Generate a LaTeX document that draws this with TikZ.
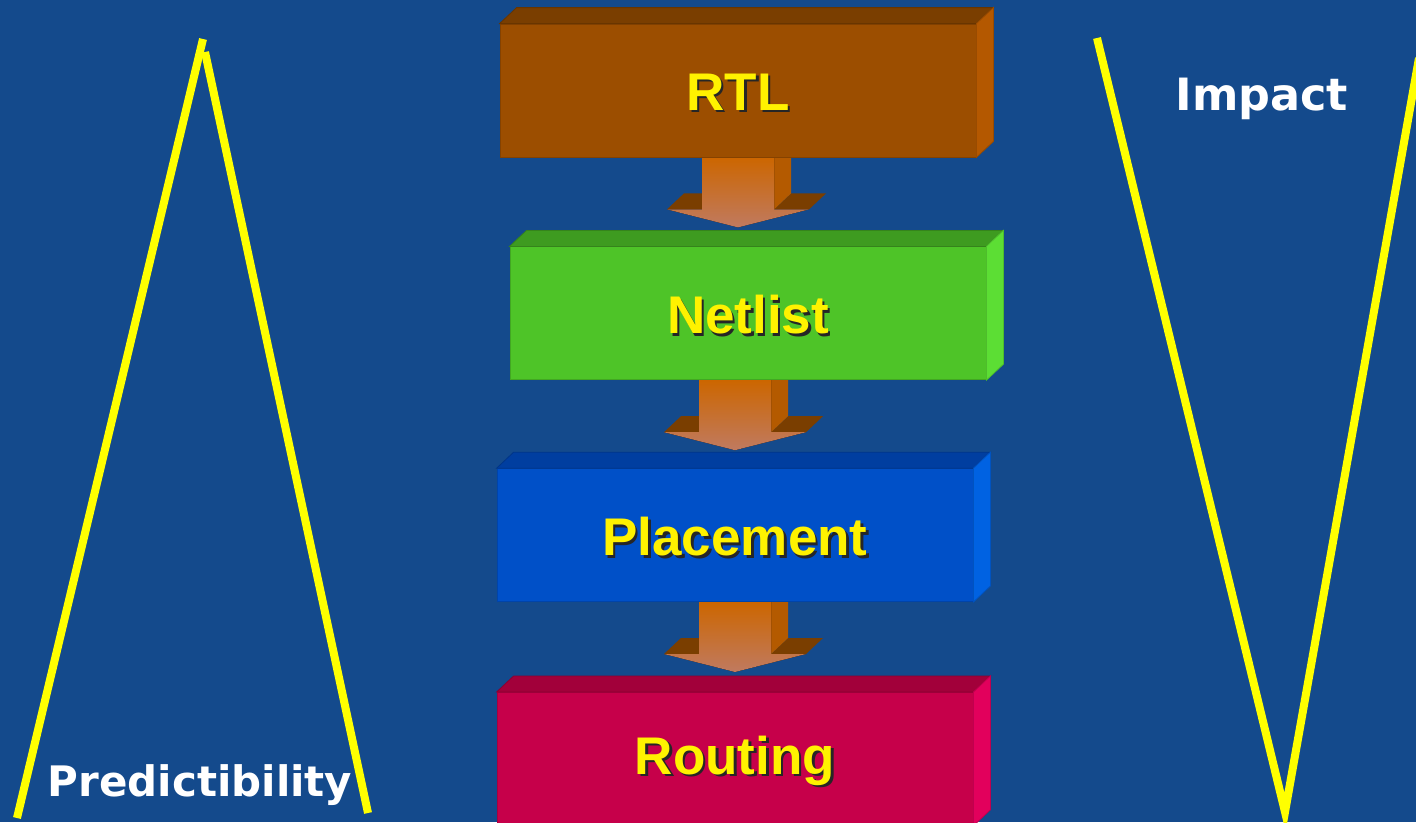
\documentclass[tikz,border=0pt]{standalone}
\usepackage{fontspec}
\setmainfont{Liberation Sans}
\newfontfamily\sidefont{DejaVu Sans}
\usetikzlibrary{positioning,calc}

\definecolor{seablue}{RGB}{20,74,140}
\definecolor{guide}{RGB}{255,255,0}
\definecolor{rtlfront}{RGB}{156,78,0}
\definecolor{rtltop}{RGB}{122,62,0}
\definecolor{rtlside}{RGB}{180,88,0}
\definecolor{netfront}{RGB}{78,196,40}
\definecolor{nettop}{RGB}{62,155,32}
\definecolor{netside}{RGB}{92,222,52}
\definecolor{placefront}{RGB}{0,80,200}
\definecolor{placetop}{RGB}{0,62,160}
\definecolor{placeside}{RGB}{0,98,226}
\definecolor{routefront}{RGB}{198,0,74}
\definecolor{routetop}{RGB}{162,0,58}
\definecolor{routeside}{RGB}{226,0,92}
\definecolor{pipetop}{RGB}{204,102,0}
\definecolor{pipebottom}{RGB}{192,122,96}
\definecolor{pipeshade}{RGB}{122,62,0}
\definecolor{pipeside}{RGB}{180,90,0}

\pgfdeclarelayer{back}
\pgfdeclarelayer{pipes}
\pgfsetlayers{back,pipes,main}

\tikzset{
  stage/.style={minimum width=476pt, minimum height=133pt, inner sep=0pt,
    fill=#1, draw=#1!85!black, line width=0.8pt, text=yellow,
    font=\bfseries\fontsize{53}{60}\selectfont},
  guideline/.style={guide, line width=8pt},
  sidelabel/.style={text=white, font=\sidefont\bfseries\fontsize{#1}{48}\selectfont},
  sidelabel/.default=42
}

% text with a dark drop shadow
\newcommand\shadowed[1]{\raisebox{-3pt}[\height][\depth]{\rlap{\kern2.5pt\raisebox{-2.5pt}{\color{black!85}#1}}#1}}

% top and right faces of a stage box
\newcommand\stagedepth[3]{%
  \filldraw[fill=#2, draw=#2!85!black, line width=0.8pt] (#1.north west) -- ++(17,-16)
    -- ($(#1.north east)+(17,-16)$) -- (#1.north east) -- cycle;
  \filldraw[fill=#3, draw=#3!85!black, line width=0.8pt] (#1.north east) -- ++(17,-16)
    -- ($(#1.south east)+(17,-16)$) -- (#1.south east) -- cycle;
}

% block arrow from one stage down to the next
\newcommand\pipearrow[3][0]{%
  \begin{pgfonlayer}{pipes}
  \begin{scope}[shift={($(#2.south -| #3.north)+(#1,0)$)}]
    \fill[pipeshade] (-71,52) -- (-54,36) -- (-36,36) -- (-36,52) -- cycle;
    \fill[pipeshade] (36,52) -- (53,36) -- (88,36) -- (71,52) -- cycle;
    \fill[pipeside] (36,0) -- (53,-16) -- (53,36) -- (36,52) -- cycle;
    \fill[top color=pipetop, bottom color=pipebottom] (-36,0) -- (36,0) -- (36,52)
      -- (71,52) -- (0,70) -- (-71,52) -- (-36,52) -- cycle;
  \end{scope}
  \end{pgfonlayer}
}

\begin{document}
\begin{tikzpicture}[x=1pt, y=-1pt]
  \useasboundingbox (0,0) rectangle (1416,822);
  \begin{pgfonlayer}{back}
    \fill[seablue] (0,0) rectangle (1416,822);
  \end{pgfonlayer}

  % Stages
  \node[stage=rtlfront] (rtl) at (738,90.5) {\shadowed{RTL}};
  \node[stage=netfront, below=89pt of rtl, xshift=10pt] (netlist) {\shadowed{Netlist}};
  \node[stage=placefront, below=88pt of netlist, xshift=-13pt] (placement) {\shadowed{Placement}};
  \node[stage=routefront, below=90pt of placement] (routing) {\shadowed{Routing}};

  \stagedepth{rtl}{rtltop}{rtlside}
  \stagedepth{netlist}{nettop}{netside}
  \stagedepth{placement}{placetop}{placeside}
  \stagedepth{routing}{routetop}{routeside}

  % Arrows
  \pipearrow[-10]{rtl}{netlist}
  \pipearrow{netlist}{placement}
  \pipearrow{placement}{routing}

  % Side guides
  \coordinate (pred_a) at (17,818);
  \coordinate (pred_b) at (203,39);
  \coordinate (pred_c) at (205,52);
  \coordinate (pred_d) at (368,813);
  \coordinate (imp_a) at (1097,38);
  \coordinate (imp_b) at (1285,812);
  \coordinate (imp_c) at (1419,58);
  \draw[guideline] (pred_a) -- (pred_b);
  \draw[guideline] (pred_c) -- (pred_d);
  \draw[guideline] (imp_a) -- (imp_b) -- (imp_c);

  \node[sidelabel] (predictibility) at (200,785) {Predictibility};
  \node[sidelabel=44.5] (impact) at (1262,99) {Impact};
\end{tikzpicture}
\end{document}
